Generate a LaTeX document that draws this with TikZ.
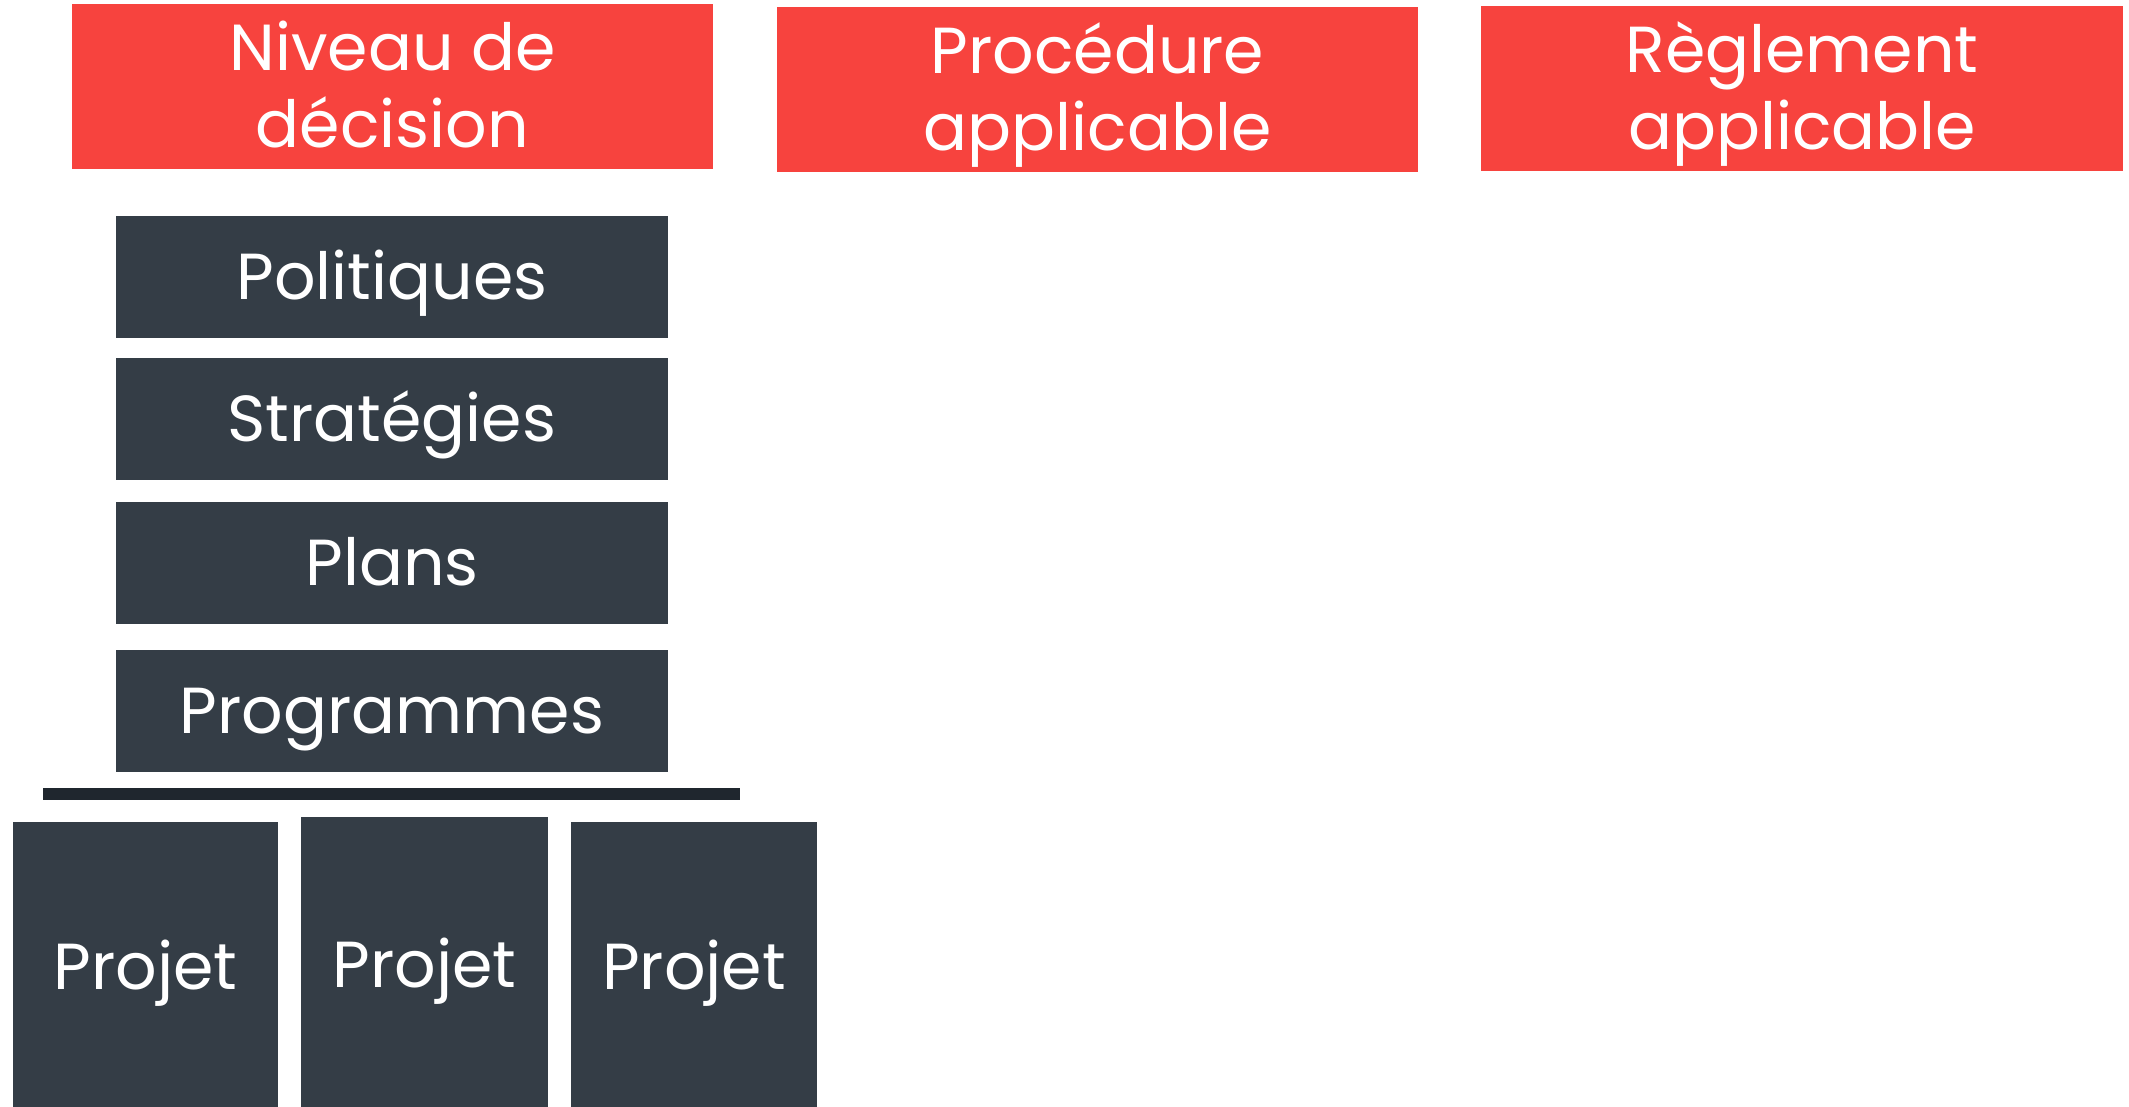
\documentclass[tikz,border=0pt]{standalone}
\usepackage{fontspec}
\setmainfont{Poppins}
\definecolor{hdred}{RGB}{247,67,62}
\definecolor{slate}{RGB}{52,61,70}
\definecolor{barcol}{RGB}{31,38,46}
\begin{document}
\begin{tikzpicture}[x=0.01cm, y=-0.01cm,
  header/.style={fill=hdred, text=white, inner sep=0pt, align=center,
    minimum width=6.41cm, minimum height=1.64cm,
    text height=1.22cm, text depth=0pt,
    font=\fontsize{18.5}{22}\selectfont},
  level/.style={fill=slate, text=white, inner sep=0pt,
    minimum width=5.52cm, minimum height=1.22cm,
    text height=0.44cm, text depth=0pt,
    font=\fontsize{18.5}{22}\selectfont},
  projet/.style={fill=slate, text=white, inner sep=0pt,
    text height=0.44cm, text depth=0pt,
    font=\fontsize{18.5}{22}\selectfont}]
\useasboundingbox (0,0) rectangle (2129,1107);

% headers
\node[header] (decision) at (392.5,86.5) {Niveau de\\décision};
\node[header, minimum height=1.65cm] (procedure) at (1097.5,89.5) {Procédure\\applicable};
\node[header] (reglement) at (1802,88.5) {Règlement\\applicable};

% levels
\node[level] (politiques) at (392,277) {Politiques};
\node[level] (strategies) at (392,419) {Stratégies};
\node[level] (plans) at (392,563) {Plans};
\node[level] (programmes) at (392,711) {Programmes};

\node[fill=barcol, inner sep=0pt, minimum width=6.97cm, minimum height=0.12cm] (bar) at (391.5,794) {};

% projects
\node[projet, minimum width=2.65cm, minimum height=2.90cm] (projetA) at (145.5,967) {Projet};
\node[projet, minimum width=2.47cm, minimum height=2.96cm] (projetB) at (424.5,965) {Projet};
\node[projet, minimum width=2.46cm, minimum height=2.90cm] (projetC) at (694,967) {Projet};

\end{tikzpicture}
\end{document}
